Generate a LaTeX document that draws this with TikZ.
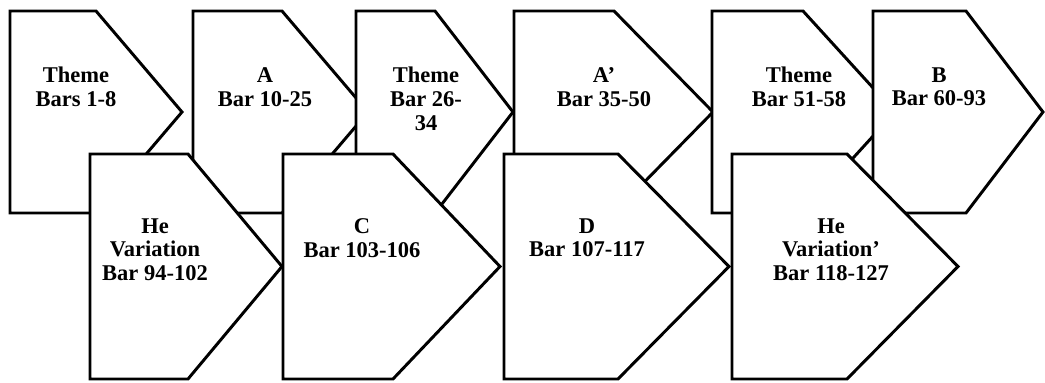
\documentclass[tikz,border=0pt]{standalone}
\usepackage{fontspec}
\setmainfont{Liberation Serif}
\usetikzlibrary{calc}

% one arrow-shaped block: left, top, corner, tip, bottom (in px)
\newcommand{\barblock}[5]{%
  \draw[block] (#1,#2) -- (#3,#2) -- (#4,{(#2+#5)/2}) -- (#3,#5) -- (#1,#5) -- cycle;}

\begin{document}
\begin{tikzpicture}[x=0.025cm, y=-0.025cm,
  block/.style={draw=black, fill=white, line width=2.1pt, line join=miter},
  barlabel/.style={font=\fontsize{16}{17}\selectfont\bfseries, align=center,
    anchor=north, inner sep=0pt}]

\useasboundingbox (0,0) rectangle (1045,382);

% --- Top row ---
\barblock{10}{11}{96}{182}{213}
\node[barlabel] (theme1) at (76,67) {Theme\\Bars 1-8};

\barblock{193}{11}{282}{368}{213}
\node[barlabel] (partA) at (265,67) {A\\Bar 10-25};

\barblock{356}{11}{435}{513}{213}
\node[barlabel] (theme2) at (426,67) {Theme\\Bar 26-\\34};

\barblock{514}{11}{614}{713}{213}
\node[barlabel] (partAp) at (604,67) {A’\\Bar 35-50};

\barblock{712}{11}{803}{895}{213}
\node[barlabel] (theme3) at (799,67) {Theme\\Bar 51-58};

\barblock{873}{11}{966}{1043}{213}
\node[barlabel] (partB) at (939,67) {B\\Bar 60-93};

% --- Bottom row ---
\barblock{90}{154}{188}{282}{379}
\node[barlabel] (hevar) at (155,218) {He\\Variation\\Bar 94-102};

\barblock{283}{154}{393}{500}{379}
\node[barlabel] (partC) at (362,218) {C\\Bar 103-106};

\barblock{504}{154}{618}{729}{379}
\node[barlabel] (partD) at (587,218) {D\\Bar 107-117};

\barblock{732}{154}{847}{958}{379}
\node[barlabel] (hevarp) at (831,218) {He\\Variation’\\Bar 118-127};

\end{tikzpicture}
\end{document}
